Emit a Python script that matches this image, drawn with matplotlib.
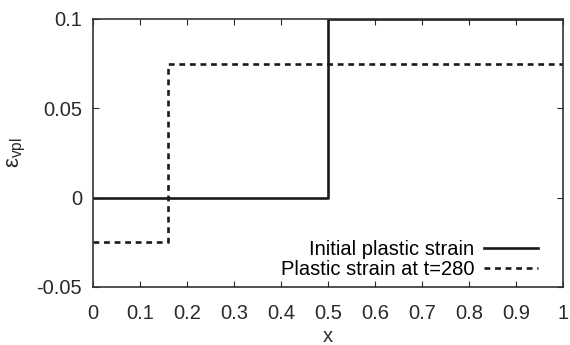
import matplotlib
matplotlib.use("Agg")
import matplotlib.pyplot as plt

# ---- données ----
x_initial = [0.0, 0.5, 0.5, 1.0]
eps_initial = [0.0, 0.0, 0.1, 0.1]

x_t280 = [0.0, 0.16, 0.16, 1.0]
eps_t280 = [-0.025, -0.025, 0.075, 0.075]

xticks = [0, 0.1, 0.2, 0.3, 0.4, 0.5, 0.6, 0.7, 0.8, 0.9, 1]
xtick_labels = ["0", "0.1", "0.2", "0.3", "0.4", "0.5", "0.6", "0.7", "0.8", "0.9", "1"]
yticks = [-0.05, 0, 0.05, 0.1]
ytick_labels = ["-0.05", "0", "0.05", "0.1"]

plt.rcParams['font.family'] = ['Liberation Sans', 'DejaVu Sans']
plt.rcParams['mathtext.fontset'] = 'custom'
plt.rcParams['mathtext.rm'] = 'Liberation Sans'
plt.rcParams['mathtext.it'] = 'Liberation Sans'

fig = plt.figure(figsize=(5.7, 3.45), dpi=100)
ax = fig.add_axes([93 / 570, 1 - 287 / 345, 470 / 570, 268 / 345])

ax.plot(x_initial, eps_initial, color='#1a1a1a', lw=1.9, label="Initial plastic strain")
ax.plot(x_t280, eps_t280, color='#1a1a1a', lw=1.9, dashes=(2.2, 1.8),
        label="Plastic strain at t=280")

ax.set_xlim(0, 1)
ax.set_ylim(-0.05, 0.1)
ax.set_xticks(xticks)
ax.set_xticklabels(xtick_labels)
ax.set_yticks(yticks)
ax.set_yticklabels(ytick_labels)

ax.tick_params(direction='in', top=True, right=True, length=4, width=0.8,
               labelsize=14.5, pad=8, colors='#2a2a2a')
ax.tick_params(axis='x', pad=12)
for s in ax.spines.values():
    s.set_linewidth(1.2)
    s.set_color('#333333')

ax.set_xlabel("x", fontsize=14.5, labelpad=3, color='#2a2a2a')
# étiquette y placée à la main (sinon coupée au bord gauche)
fig.text(17 / 570, 1 - 152 / 345, r"ε$_{\mathregular{vpl}}$", fontsize=16,
         color='#2a2a2a', rotation=90, ha='center', va='center')

ax.legend(loc='lower right', frameon=False, markerfirst=False, fontsize=14.5,
          handlelength=2.7, handletextpad=0.5, labelspacing=0.05,
          borderaxespad=0.0, bbox_to_anchor=(0.965, 0.0))

fig.savefig("out.png", dpi=100)
